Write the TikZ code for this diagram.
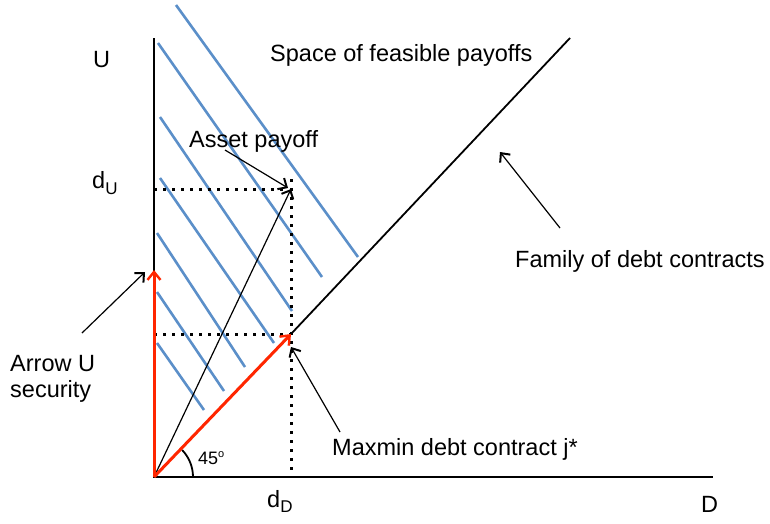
\documentclass[tikz,border=0pt]{standalone}
\usepackage{fontspec}
\setmainfont{Liberation Sans}
\usetikzlibrary{arrows.meta}
\definecolor{hatchblue}{RGB}{91,143,201}
\definecolor{arrred}{RGB}{255,38,0}
\begin{document}
\begin{tikzpicture}[x=1pt,y=-1pt,
  lbl/.style={inner sep=0pt, font=\fontsize{23.5}{28}\selectfont, anchor=base west},
  axis/.style={line width=1.8pt},
  hatch/.style={hatchblue, line width=2.6pt},
  dots/.style={line width=3pt, dash pattern=on 3pt off 6pt},
  redarrow/.style={arrred, line width=3pt, -{Straight Barb[length=8pt,width=13pt,line width=2.4pt]}},
  thinarrow/.style={line width=1.2pt, -{Straight Barb[length=7pt,width=13pt,line width=2pt]}},
]
\useasboundingbox (0,0) rectangle (770,523);
% key points
\coordinate (O) at (154,477);
\coordinate (Utop) at (154,38);
\coordinate (Dend) at (713,477);
\coordinate (J) at (291,334);
\coordinate (A) at (291,189);
\coordinate (R) at (154,270);
\coordinate (Fend) at (570,38);
\coordinate (dUy) at (154,189);
\coordinate (jy) at (154,334);
\coordinate (dDx) at (291,477);
% hatch lines
\draw[hatch] (176,5) -- (358,257);
\draw[hatch] (158,43) -- (322,277);
\draw[hatch] (160,117) -- (292,311);
\draw[hatch] (160,178) -- (274,343);
\draw[hatch] (157,233) -- (245,367);
\draw[hatch] (157,292) -- (224,391);
\draw[hatch] (157,343) -- (204,410);
% dotted guides
\draw[dots] (dUy) -- ([xshift=-5pt]A);
\draw[dots] ([yshift=10pt]A) -- (dDx);
\draw[dots] (jy) -- (J);
% axes
\draw[axis] (Utop) -- (O) -- (Dend);
\draw[axis] (J) -- (Fend);
\draw[axis] (O) ++(39,0) arc[start angle=0, end angle=-44, radius=39];
% asset arrow
\draw[thinarrow] (O) -- (A);
% red arrows
\draw[redarrow] (O) -- (R);
\draw[redarrow] (O) -- (J);
% labels
\node[lbl] (Ulbl) at (93,67) {U};
\node[lbl] (dU) at (92,188) {d\raisebox{-6pt}{\fontsize{17}{17}\selectfont U}};
\node[lbl] (dD) at (267,507) {d\raisebox{-5pt}{\fontsize{17}{17}\selectfont D}};
\node[lbl] (Dlbl) at (701,512) {D};
\node[lbl] (space) at (270,61) {Space of feasible payoffs};
\node[lbl] (asset) at (189,147) {Asset payoff};
\node[lbl] (family) at (515,267) {Family of debt contracts};
\node[lbl, anchor=north west, align=left, font=\fontsize{23.5}{26}\selectfont] (arrowU) at (10,355) {Arrow U\\security};
\node[lbl] (maxmin) at (332,455) {Maxmin debt contract j*};
\node[inner sep=0pt, anchor=base west, font=\fontsize{18}{20}\selectfont] (deg) at (198,464) {45\raisebox{7pt}{\fontsize{11}{11}\selectfont o}};
% pointer arrows
\coordinate (assetTail) at (225,150);
\coordinate (assetHead) at (288,188);
\coordinate (arrowUTail) at (82,333);
\coordinate (arrowUHead) at (145,272);
\coordinate (maxTail) at (340,432);
\coordinate (maxHead) at (291,347);
\coordinate (famTail) at (560,228);
\coordinate (famHead) at (500,152);
\draw[thinarrow] (assetTail) -- (assetHead);
\draw[thinarrow] (arrowUTail) -- (arrowUHead);
\draw[thinarrow] (maxTail) -- (maxHead);
\draw[thinarrow] (famTail) -- (famHead);
\end{tikzpicture}
\end{document}
